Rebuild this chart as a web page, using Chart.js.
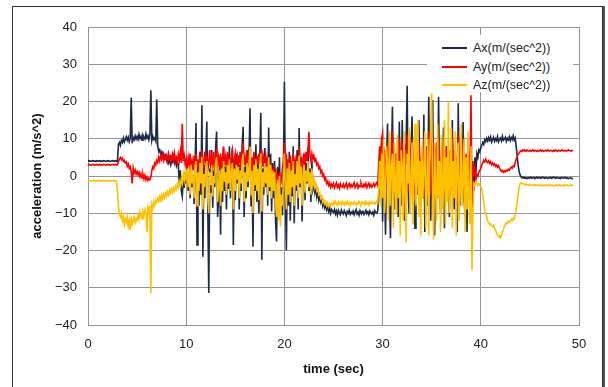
<!DOCTYPE html>
<html>
<head>
<meta charset="utf-8">
<script src="https://cdn.jsdelivr.net/npm/chart.js@4.4.1/dist/chart.umd.min.js"></script>
<style>
  html, body { margin: 0; padding: 0; background: #fff; overflow: hidden; }
  #wrap { position: relative; width: 608px; height: 387px; }
  #frame { position: absolute; left: 12px; top: 6px; width: 589px; height: 400px;
           border: 1px solid #333; box-shadow: 2px 0 0 #555; background: #fff; }
  canvas { position: absolute; left: 0; top: 0; }
  #legend { position: absolute; left: 427px; top: 35px; width: 146px; height: 57px; background: #fff;
            font-family: "Liberation Sans", Arial, sans-serif; font-size: 12.5px; color: #222; }
  .row { position: absolute; left: 0; height: 16px; width: 146px; }
  .swatch { position: absolute; left: 15px; width: 25px; height: 2px; top: 7px; }
  .lbl { position: absolute; left: 46px; top: 0; line-height: 16px; white-space: nowrap; }
</style>
</head>
<body>
<div id="wrap">
  <div id="frame"></div>
  <canvas id="c" width="608" height="387"></canvas>
  <div id="legend"></div>
</div>
<script>
// ---- data (sampled every 0.1 s) ----
const seriesNames = ["Ax(m/(sec^2))", "Ay(m/(sec^2))", "Az(m/(sec^2))"];
const xTicks = [0, 10, 20, 30, 40, 50];
const yTicks = [-40, -30, -20, -10, 0, 10, 20, 30, 40];
const sampleStep = 0.1;

const ax = [
4.0,4.1,4.0,3.9,4.0,4.1,4.0,4.0,3.9,4.1,
4.0,4.0,4.1,3.9,4.0,4.0,4.1,4.0,3.9,4.0,
4.1,4.0,4.0,3.9,4.0,4.1,4.0,4.0,4.1,4.0,
4.0,8.5,9.0,8.2,9.5,9.0,10.2,9.1,9.8,10.5,
9.6,10.4,9.2,10.1,21.0,8.8,10.3,9.7,10.8,9.9,
10.6,9.8,11.2,10.1,10.7,9.6,11.0,10.4,9.9,11.3,
10.2,10.8,9.7,11.0,23.0,9.5,10.6,9.8,10.2,9.4,
20.5,8.2,6.5,7.0,5.8,6.4,5.2,6.0,4.8,5.5,
4.2,5.0,3.6,4.5,3.2,4.8,3.9,5.2,3.5,4.4,
2.8,4.0,3.0,-2.5,1.5,-4.0,-5.5,-1.0,-3.2,1.0,
-2.0,2.5,-4.0,1.0,-6.0,3.0,-3.0,0.5,-7.5,2.0,
14.2,-18.5,4.0,-8.0,6.5,-5.0,19.0,-21.7,3.0,-6.0,
5.5,14.6,-9.0,-31.4,2.0,-4.5,7.0,-8.5,1.5,-3.0,
8.0,11.9,-11.0,-6.0,3.0,-15.8,5.0,-7.0,7.5,-4.0,
2.5,-9.0,6.0,-3.5,8.0,-6.0,2.0,7.5,-18.5,4.0,
-6.5,6.0,-2.0,5.5,-9.0,3.0,-4.0,8.5,13.2,-11.0,
2.5,-6.0,7.0,-3.0,5.5,18.2,-8.0,3.0,-19.0,6.0,
-4.0,8.5,-7.0,4.0,-10.0,6.0,17.0,-22.5,2.0,-5.0,
7.5,-3.0,5.0,-8.0,13.0,-4.0,6.0,-9.5,3.5,-6.0,
4.0,-12.0,-17.6,2.5,-6.0,5.0,-9.0,-3.0,-10.5,1.5,
25.3,-5.0,-19.9,4.0,-8.0,6.5,-12.0,3.0,-5.5,8.0,
-12.7,2.0,-4.0,7.0,-9.0,12.9,-3.0,5.0,-12.2,1.0,
6.0,-6.5,3.5,-2.0,7.5,-4.0,2.0,-7.0,4.0,-3.5,
-2.0,-4.5,-3.0,-5.5,-4.0,-6.5,-5.5,-7.0,-6.0,-8.0,
-7.0,-8.5,-7.5,-9.0,-8.0,-9.5,-8.5,-10.0,-9.0,-9.5,
-9.8,-9.0,-10.2,-9.4,-10.5,-9.2,-9.9,-10.4,-9.1,-9.8,
-10.2,-9.3,-9.9,-10.6,-9.5,-10.0,-9.2,-10.3,-9.7,-10.1,
-9.4,-10.4,-9.6,-9.0,-10.2,-9.7,-10.5,-9.3,-9.9,-10.0,
-9.5,-10.3,-9.8,-9.2,-10.1,-9.6,-10.4,-9.4,-9.9,-10.2,
-9.7,-10.5,-9.3,-9.8,-10.0,-9.4,-6.0,2.0,-5.0,6.0,
-12.2,8.0,-3.0,-15.8,4.0,14.1,-2.0,-6.0,-16.7,5.0,
18.6,-4.0,-9.0,6.0,-2.0,2.0,-11.0,14.6,-3.0,-8.0,
15.0,-1.0,-12.0,6.0,9.0,24.2,-4.0,-10.0,3.0,8.0,
16.0,-2.0,-7.0,-14.0,5.0,10.0,-5.0,15.0,-3.0,-9.0,
4.0,-6.0,16.5,-15.0,2.0,8.0,-8.0,21.3,-2.0,-12.0,
6.0,20.4,-4.0,-16.0,3.0,8.0,-6.0,21.3,-2.0,-10.0,
5.0,-3.0,13.0,-14.0,4.0,8.0,-5.0,2.0,-11.0,7.0,
-4.0,15.0,-6.0,-9.0,5.0,-3.0,-15.0,19.5,-2.0,-8.0,
6.0,-3.0,14.5,-6.0,-11.0,4.0,-15.0,8.0,-2.0,-7.0,
10.0,-13.0,3.0,-4.0,5.0,1.0,6.0,5.0,7.0,6.5,
7.5,8.3,9.0,8.5,9.7,9.2,10.1,9.4,10.3,9.6,
10.5,9.1,9.8,10.4,9.3,10.0,9.5,10.6,9.2,9.9,
10.2,9.4,10.7,9.6,9.9,10.4,9.3,10.1,9.7,10.5,
9.5,10.3,9.8,10.8,9.6,10.2,8.0,5.5,3.0,1.2,
0.3,-0.2,-0.5,-0.3,-0.6,-0.4,-0.5,-0.7,-0.4,-0.6,
-0.5,-0.3,-0.6,-0.5,-0.4,-0.7,-0.5,-0.3,-0.6,-0.5,
-0.4,-0.6,-0.5,-0.3,-0.5,-0.6,-0.4,-0.5,-0.7,-0.5,
-0.5,-0.4,-0.6,-0.5,-0.3,-0.5,-0.6,-0.4,-0.5,-0.6,
-0.5,-0.7,-0.4,-0.5,-0.6,-0.5,-0.4,-0.6,-0.5,-0.7,
-0.6,-0.5,-0.6,-0.7,-0.6
];

const ay = [
3.0,3.1,3.0,2.9,3.0,3.1,3.0,3.0,2.9,3.1,
3.0,3.0,3.1,2.9,3.0,3.0,3.1,3.0,2.9,3.0,
3.1,3.0,3.0,2.9,3.0,3.1,3.0,3.0,3.1,3.0,
3.0,3.8,4.6,5.0,4.4,4.8,3.9,4.2,3.5,3.8,
2.6,3.2,2.0,2.5,1.2,-2.0,2.1,0.8,1.6,0.5,
1.2,0.3,1.0,-0.2,0.6,-0.5,0.4,-0.8,0.2,-1.0,
-0.3,-1.2,-0.6,-1.0,-0.4,1.5,2.5,2.0,3.5,3.0,
4.2,3.6,5.0,4.0,5.5,4.5,5.8,4.2,5.2,4.6,
5.5,4.0,6.0,4.8,5.3,3.8,5.8,4.5,6.2,4.3,
5.0,3.6,5.8,4.2,6.5,3.5,14.0,4.0,5.5,3.0,
4.5,2.0,5.0,3.0,6.0,2.5,4.0,1.5,5.5,3.0,
6.0,2.5,4.5,1.0,5.0,3.5,7.0,2.0,4.0,6.5,
3.0,5.5,1.5,4.0,7.0,2.0,5.0,3.0,6.5,1.0,
4.0,7.5,2.5,5.0,3.0,6.0,1.5,4.5,8.0,3.0,
5.0,2.0,6.5,3.5,4.5,1.0,5.5,7.0,2.5,4.0,
6.0,3.0,5.0,1.5,4.0,6.5,2.0,5.5,9.0,3.0,
5.0,2.5,6.0,3.5,7.5,4.0,2.0,5.0,3.0,6.5,
4.0,2.0,5.5,3.0,6.0,1.5,4.5,7.0,2.5,5.0,
3.5,5.5,2.0,4.0,1.0,3.0,0.0,2.5,-1.0,1.5,
-0.5,2.0,-2.0,0.5,-3.0,1.0,-2.5,-1.0,2.0,4.0,
9.0,3.0,6.0,1.0,4.5,2.0,5.5,0.5,3.5,6.0,
2.0,4.0,0.5,5.0,2.5,8.0,3.0,1.0,4.5,2.5,
5.0,3.0,6.5,4.0,7.0,11.9,5.5,4.0,6.0,4.5,
5.5,4.0,4.5,3.0,3.5,2.0,2.5,1.0,1.5,0.0,
0.5,-1.0,-0.5,-2.0,-1.5,-2.5,-1.8,-3.0,-2.2,-2.8,
-2.0,-3.2,-2.5,-1.8,-3.0,-2.4,-3.3,-2.1,-2.8,-3.0,
-2.2,-3.1,-2.6,-1.9,-3.2,-2.5,-2.0,-3.0,-2.3,-2.9,
-2.4,-1.8,-3.1,-2.6,-2.0,-3.2,-2.5,-2.9,-1.9,-2.7,
-3.0,-2.2,-2.8,-2.0,-3.1,-2.4,-1.9,-2.9,-2.3,-3.0,
-2.5,-2.0,-2.8,-2.2,-1.8,-2.5,3.0,8.0,4.0,10.0,
11.5,3.0,7.0,-2.0,5.0,9.0,1.0,6.0,-3.0,8.0,
12.0,2.0,5.0,-4.0,6.0,3.0,-2.0,10.0,4.0,0.0,
9.0,5.0,-3.0,7.0,3.0,11.0,1.0,-4.0,6.0,4.0,
10.0,2.0,-2.0,-5.0,5.0,8.0,0.0,9.0,3.0,-3.0,
6.0,1.0,10.0,-4.0,4.0,7.0,-2.0,12.0,3.0,-5.0,
5.0,11.0,2.0,-4.0,6.0,9.0,0.0,10.0,4.0,-3.0,
7.0,2.0,9.0,-4.0,5.0,8.0,-1.0,4.0,-5.0,6.0,
1.0,10.0,2.0,-3.0,7.0,3.0,-5.0,11.0,4.0,-2.0,
8.0,2.0,9.0,0.0,-4.0,6.0,-5.0,10.0,3.0,-2.0,
21.7,-6.0,4.0,0.0,2.0,-1.0,0.5,0.0,1.0,1.5,
2.0,3.0,3.5,4.2,3.8,4.5,3.9,3.6,4.1,3.4,
3.8,3.1,3.5,2.9,3.3,2.6,3.0,2.4,2.8,2.2,
1.6,1.2,1.5,1.0,1.4,1.1,1.5,1.3,1.8,1.6,
2.0,2.4,2.1,2.7,2.5,3.5,4.5,5.2,5.8,6.2,
6.5,6.8,6.6,7.0,6.7,6.9,6.6,7.0,6.8,6.7,
6.9,6.6,6.8,7.0,6.7,6.9,6.8,6.6,6.9,6.7,
6.8,7.0,6.7,6.9,6.6,6.8,6.9,6.7,7.0,6.8,
6.7,6.9,6.8,6.6,6.9,6.7,7.0,6.8,6.6,6.9,
6.8,6.7,6.9,7.0,6.7,6.8,6.9,6.7,6.8,7.0,
6.9,6.8,6.7,6.9,6.8
];

const az = [
-1.3,-1.3,-1.2,-1.3,-1.4,-1.3,-1.2,-1.3,-1.3,-1.4,
-1.3,-1.2,-1.3,-1.4,-1.3,-1.3,-1.2,-1.3,-1.4,-1.3,
-1.3,-1.2,-1.3,-1.3,-1.4,-1.3,-1.2,-1.3,-1.3,-1.5,
-4.0,-8.0,-10.5,-11.0,-10.0,-12.0,-11.0,-13.0,-11.5,-12.5,
-11.0,-13.5,-12.0,-14.5,-11.5,-13.0,-12.0,-11.0,-12.5,-11.5,
-12.0,-10.5,-11.5,-9.5,-10.5,-11.5,-9.5,-10.5,-9.0,-10.0,
-15.0,-8.5,-9.5,-8.0,-31.5,-7.5,-8.5,-7.0,-8.0,-6.5,
-7.0,-6.0,-6.8,-5.5,-6.5,-5.2,-6.2,-5.0,-5.8,-4.6,
-5.4,-4.2,-5.0,-3.8,-4.6,-3.5,-4.4,-3.2,-4.0,-2.8,
-3.6,-2.2,-3.0,-1.5,-2.6,-0.8,-2.0,0.5,-1.2,1.0,
-1.0,2.0,-3.0,1.5,-5.0,3.0,-2.0,0.5,-6.0,2.5,
4.0,-8.0,1.0,-4.0,3.5,-2.0,5.0,-9.0,0.5,-3.0,
2.5,4.0,-6.0,-10.0,1.0,-2.5,3.0,-5.5,0.0,-2.0,
3.5,5.0,-7.0,-3.0,1.5,-8.0,2.0,-4.0,4.0,-1.5,
1.0,-5.0,3.0,-2.0,4.5,-4.0,1.0,3.5,-9.0,2.0,
-4.0,3.0,-1.0,2.5,-6.0,1.5,-2.0,4.0,6.0,-7.0,
1.0,-4.0,3.5,-1.5,2.5,7.9,-5.0,1.5,-10.0,3.0,
-2.5,4.5,-4.0,2.0,-6.5,3.0,6.0,-9.5,1.0,-3.0,
3.5,-2.0,2.5,-5.0,5.0,-3.0,3.0,-6.0,1.5,-4.0,
1.0,-7.0,-11.0,-1.0,-12.0,0.0,-13.5,-5.0,-8.0,-1.0,
6.0,-3.0,-9.0,2.0,-5.0,3.5,-7.0,1.5,-3.0,4.0,
-8.0,0.5,-2.5,4.0,-6.0,5.5,-2.0,2.5,-8.0,0.0,
3.0,-4.5,1.5,-1.5,4.0,-3.0,1.0,-5.0,2.0,-2.5,
-1.0,-3.0,-2.0,-4.0,-3.5,-5.0,-4.5,-6.0,-5.5,-7.0,
-6.5,-7.5,-7.0,-8.0,-7.2,-8.2,-7.5,-8.0,-7.3,-7.8,
-7.0,-7.6,-6.8,-7.4,-7.9,-6.9,-7.5,-7.1,-7.7,-6.8,
-7.3,-7.8,-7.0,-7.5,-6.9,-7.6,-7.2,-7.9,-7.0,-7.4,
-7.6,-6.9,-7.4,-7.8,-7.1,-7.5,-6.8,-7.3,-7.7,-7.0,
-7.4,-7.0,-7.7,-6.9,-7.5,-7.2,-7.8,-7.0,-7.4,-6.9,
-7.3,-7.6,-7.0,-7.4,-6.8,-7.2,-3.0,4.0,-8.0,6.0,
-6.0,10.0,-10.0,-5.0,8.0,3.0,-12.0,12.0,-8.0,2.0,
6.0,-14.0,9.0,-3.0,-10.0,11.0,-6.0,4.0,-16.0,7.0,
2.0,-12.0,12.0,-5.0,-17.9,6.0,-2.0,13.0,-10.0,-4.0,
9.0,-13.0,3.0,14.0,-8.0,-2.0,15.0,-11.0,4.0,-16.0,
8.0,-6.0,2.0,12.0,-14.0,-3.0,10.0,-16.0,5.0,13.0,
22.2,-8.0,-17.0,9.0,-4.0,-12.0,14.0,-6.0,4.0,-15.0,
11.0,-9.0,-3.0,15.0,-13.0,5.0,-7.0,20.0,-10.0,-2.0,
13.0,-14.0,4.0,-6.0,12.0,-16.0,3.0,9.0,-12.0,-4.0,
14.0,-8.0,-2.0,10.0,-15.0,5.0,-9.0,12.0,-6.0,-13.0,
8.0,-25.2,-10.0,-2.0,-2.5,-1.5,-2.0,-2.5,-2.0,-2.5,
-2.8,-3.5,-5.0,-7.0,-9.0,-10.0,-11.0,-12.0,-12.7,-13.0,
-12.8,-13.4,-13.6,-13.2,-14.0,-14.6,-15.3,-15.8,-16.3,-16.0,
-16.6,-16.0,-15.0,-14.5,-13.5,-13.0,-12.6,-12.8,-12.2,-12.5,
-12.0,-11.6,-12.0,-11.4,-11.6,-10.5,-9.1,-7.0,-5.0,-3.0,
-2.0,-1.8,-2.0,-2.2,-2.1,-2.3,-2.2,-2.4,-2.3,-2.4,
-2.5,-2.4,-2.6,-2.5,-2.3,-2.6,-2.4,-2.5,-2.6,-2.4,
-2.5,-2.6,-2.4,-2.5,-2.7,-2.5,-2.4,-2.6,-2.5,-2.4,
-2.6,-2.5,-2.4,-2.6,-2.5,-2.7,-2.5,-2.4,-2.6,-2.5,
-2.4,-2.6,-2.5,-2.5,-2.7,-2.4,-2.6,-2.5,-2.4,-2.6,
-2.5,-2.6,-2.4,-2.5,-2.6
];

const colors = ["#1c2947", "#ff0000", "#ffc000"];

// time axis (sample index -> seconds)
const times = ax.map((_, i) => Math.round(i * sampleStep * 10) / 10);
const toPoints = arr => arr.map((v, i) => ({ x: times[i], y: v }));

const FONT = "'Liberation Sans', Arial, sans-serif";

const chart = new Chart(document.getElementById('c'), {
  type: 'line',
  data: {
    datasets: [ax, ay, az].map((arr, k) => ({
      label: seriesNames[k],
      data: toPoints(arr),
      borderColor: colors[k],
      borderWidth: 1.6,
      pointRadius: 0,
      tension: 0,
      fill: false,
      order: 3 - k
    }))
  },
  options: {
    responsive: false,
    animation: false,
    parsing: false,
    normalized: true,
    layout: { padding: { top: 27, right: 29, left: 0, bottom: 0 } },
    plugins: { legend: { display: false }, tooltip: { enabled: false } },
    scales: {
      x: {
        type: 'linear',
        min: 0, max: 50,
        afterBuildTicks: s => { s.ticks = xTicks.map(v => ({ value: v })); },
        afterFit: s => { s.height = 62; },
        grid: { color: '#959595', lineWidth: 1, drawTicks: false },
        border: { display: true, color: '#959595' },
        ticks: { padding: 12, color: '#222', font: { family: FONT, size: 13 } },
        title: { display: true, text: 'time (sec)', color: '#111',
                 font: { family: FONT, size: 13, weight: 'bold' }, padding: { top: 0, bottom: 10 } }
      },
      y: {
        min: -40, max: 40,
        afterBuildTicks: s => { s.ticks = yTicks.map(v => ({ value: v })); },
        afterFit: s => { s.width = 88; },
        grid: { color: '#959595', lineWidth: 1, drawTicks: false },
        border: { display: true, color: '#959595' },
        ticks: { padding: 11, color: '#222', font: { family: FONT, size: 13 },
                 callback: v => String(v).replace('-', '\u2212') },
        title: { display: true, text: 'acceleration (m/s^2)', color: '#111',
                 font: { family: FONT, size: 13, weight: 'bold' }, padding: { top: 30, bottom: 0 } }
      }
    }
  },
  plugins: [{
    id: 'topRightBorder',
    afterDraw(c) {
      const a = c.chartArea, ctx = c.ctx;
      ctx.save();
      ctx.strokeStyle = '#959595';
      ctx.lineWidth = 1;
      ctx.beginPath();
      ctx.moveTo(Math.round(a.left) + 0.5, Math.round(a.top) + 0.5);
      ctx.lineTo(Math.round(a.right) + 0.5, Math.round(a.top) + 0.5);
      ctx.lineTo(Math.round(a.right) + 0.5, Math.round(a.bottom) + 0.5);
      ctx.stroke();
      ctx.restore();
    }
  }]
});

// HTML legend built from the series names and colours
const legend = document.getElementById('legend');
seriesNames.forEach((name, k) => {
  const row = document.createElement('div');
  row.className = 'row';
  row.style.top = (5 + k * 18.7) + 'px';
  const sw = document.createElement('div');
  sw.className = 'swatch';
  sw.style.background = colors[k];
  const lb = document.createElement('div');
  lb.className = 'lbl';
  lb.textContent = name;
  row.appendChild(sw); row.appendChild(lb);
  legend.appendChild(row);
});
</script>
</body>
</html>
